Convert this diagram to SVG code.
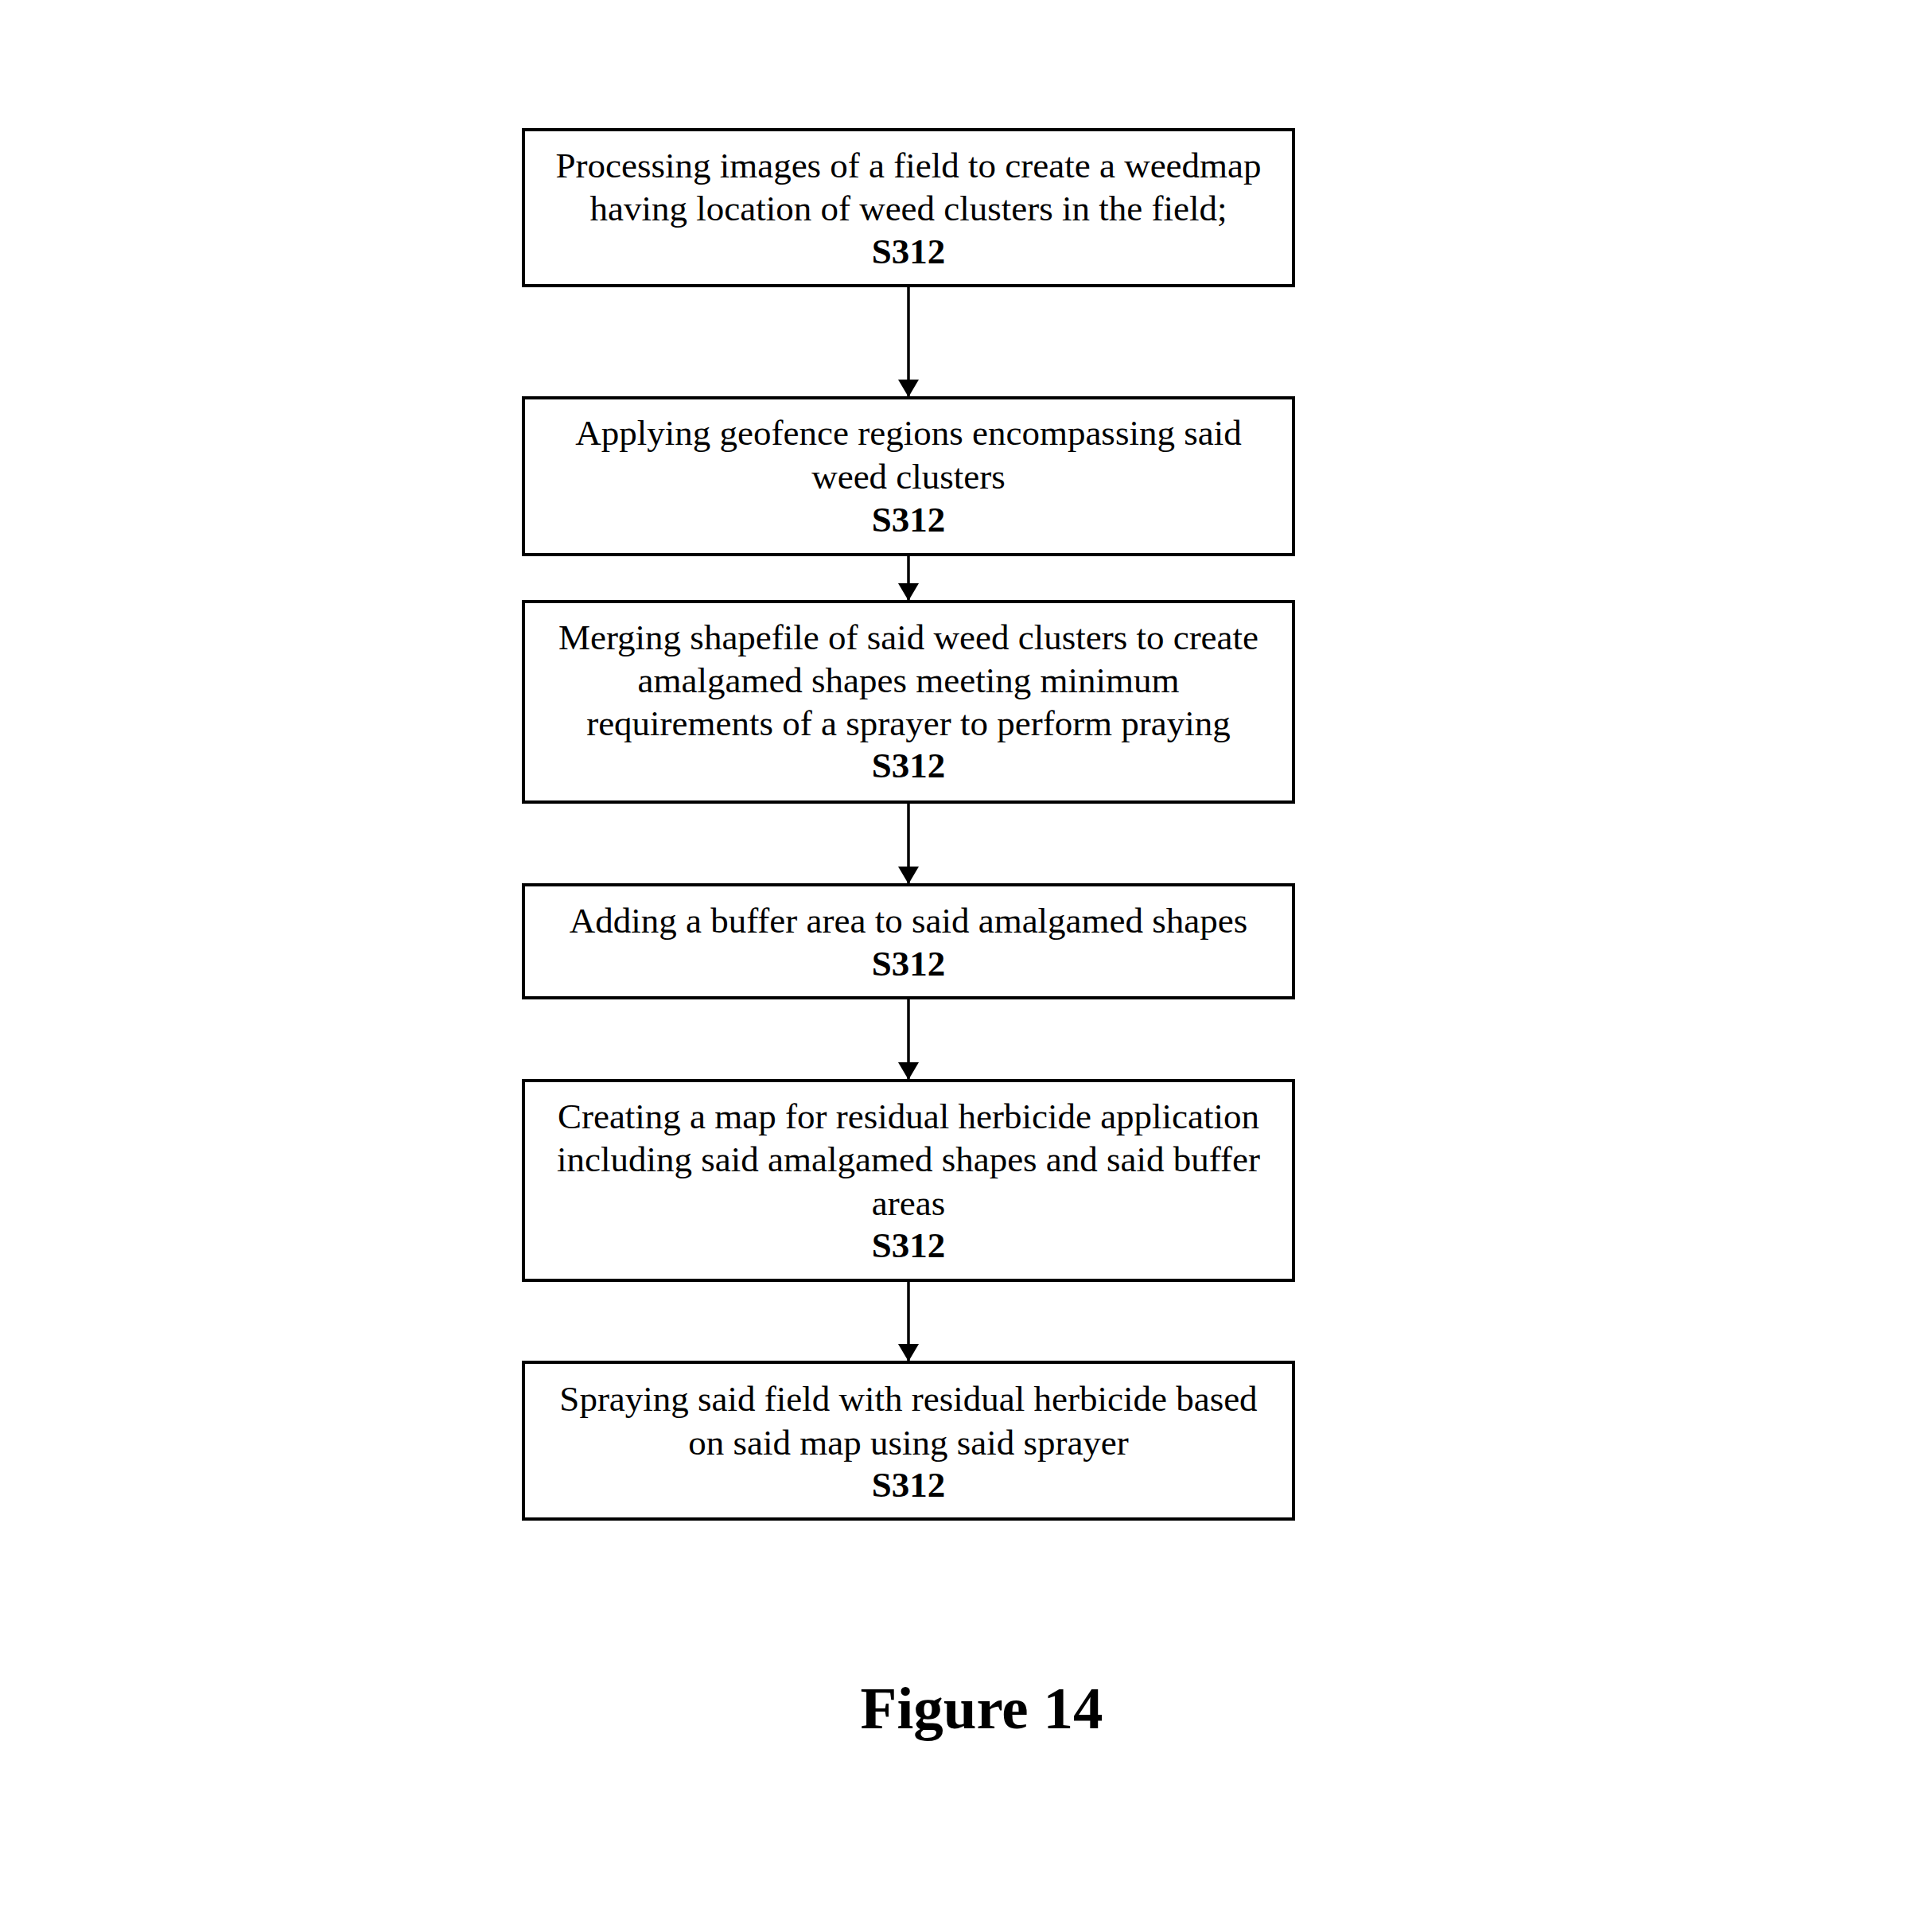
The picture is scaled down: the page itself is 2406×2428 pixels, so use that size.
<svg xmlns="http://www.w3.org/2000/svg" width="2406" height="2428" viewBox="0 0 2406 2428">
<style>
.box{fill:#fff;stroke:#000;stroke-width:4}
.t{font-family:"Liberation Serif","Times New Roman",serif;font-size:45px;text-anchor:middle;fill:#000}
.b{font-weight:bold}
.c{stroke:#000;stroke-width:3.5;fill:none}
.fig{font-family:"Liberation Serif","Times New Roman",serif;font-size:75px;font-weight:bold;text-anchor:middle;fill:#000}
</style>
<defs>
<marker id="ah" markerWidth="22" markerHeight="26" refX="22" refY="13" orient="auto" markerUnits="userSpaceOnUse" viewBox="0 0 22 26">
<path d="M0,0 L22,13 L0,26 Z" fill="#000"/>
</marker>
</defs>
<rect width="2406" height="2428" fill="#fff"/>
<g id="connectors">
<line class="c" x1="1142" y1="359" x2="1142" y2="499" marker-end="url(#ah)"/>
<line class="c" x1="1142" y1="697" x2="1142" y2="755" marker-end="url(#ah)"/>
<line class="c" x1="1142" y1="1008" x2="1142" y2="1111" marker-end="url(#ah)"/>
<line class="c" x1="1142" y1="1254" x2="1142" y2="1357" marker-end="url(#ah)"/>
<line class="c" x1="1142" y1="1609" x2="1142" y2="1711" marker-end="url(#ah)"/>
</g>
<g id="n1">
<rect class="box" x="658" y="163" width="968" height="196"/>
<text class="t" x="1142" y="223">Processing images of a field to create a weedmap</text>
<text class="t" x="1142" y="277">having location of weed clusters in the field;</text>
<text class="t b" x="1142" y="331">S312</text>
</g>
<g id="n2">
<rect class="box" x="658" y="500" width="968" height="197"/>
<text class="t" x="1142" y="559">Applying geofence regions encompassing said</text>
<text class="t" x="1142" y="614">weed clusters</text>
<text class="t b" x="1142" y="668">S312</text>
</g>
<g id="n3">
<rect class="box" x="658" y="756" width="968" height="252"/>
<text class="t" x="1142" y="816">Merging shapefile of said weed clusters to create</text>
<text class="t" x="1142" y="870">amalgamed shapes meeting minimum</text>
<text class="t" x="1142" y="924">requirements of a sprayer to perform praying</text>
<text class="t b" x="1142" y="977">S312</text>
</g>
<g id="n4">
<rect class="box" x="658" y="1112" width="968" height="142"/>
<text class="t" x="1142" y="1172">Adding a buffer area to said amalgamed shapes</text>
<text class="t b" x="1142" y="1226">S312</text>
</g>
<g id="n5">
<rect class="box" x="658" y="1358" width="968" height="251"/>
<text class="t" x="1142" y="1418">Creating a map for residual herbicide application</text>
<text class="t" x="1142" y="1472">including said amalgamed shapes and said buffer</text>
<text class="t" x="1142" y="1527">areas</text>
<text class="t b" x="1142" y="1580">S312</text>
</g>
<g id="n6">
<rect class="box" x="658" y="1712" width="968" height="197"/>
<text class="t" x="1142" y="1773">Spraying said field with residual herbicide based</text>
<text class="t" x="1142" y="1828">on said map using said sprayer</text>
<text class="t b" x="1142" y="1881">S312</text>
</g>
<text class="fig" x="1234" y="2172">Figure 14</text>
</svg>
